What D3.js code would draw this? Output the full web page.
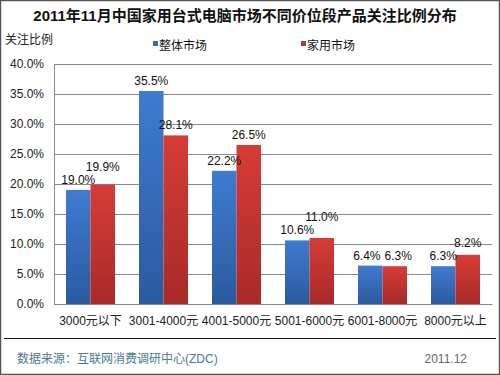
<!DOCTYPE html>
<html lang="zh">
<head>
    <meta charset="UTF-8">
    <title>2011年11月中国家用台式电脑市场不同价位段产品关注比例分布</title>
    <script src="https://d3js.org/d3.v7.min.js"></script>
    <style>
        body { margin: 0; background: #fff; }
        svg text { font-family: "Liberation Sans", Arial, "Noto Sans CJK SC", sans-serif; }
        .tick-label { font-size: 12px; fill: #222; }
        .value-label { font-size: 12px; fill: #111; text-anchor: middle; }
    </style>
</head>
<body>
    <svg width="500" height="375"></svg>
    <script>
        const categories = ["3000元以下", "3001-4000元", "4001-5000元", "5001-6000元", "6001-8000元", "8000元以上"];
        const overall = [19.0, 35.5, 22.2, 10.6, 6.4, 6.3];
        const household = [19.9, 28.1, 26.5, 11.0, 6.3, 8.2];
        const seriesNames = ["整体市场", "家用市场"];
        const yTicks = [0, 5, 10, 15, 20, 25, 30, 35, 40];

        const svg = d3.select("svg");
        const plot = { left: 54, right: 492, top: 64, bottom: 304 };

        // gradients
        const defs = svg.append("defs");
        const grads = [["gBlue", "#3f7bd0", "#2b5a9f"], ["gRed", "#d63c36", "#a82a2a"]];
        grads.forEach(([id, c1, c2]) => {
            const g = defs.append("linearGradient").attr("id", id)
                .attr("x1", 0).attr("y1", 0).attr("x2", 0).attr("y2", 1);
            g.append("stop").attr("offset", "0%").attr("stop-color", c1);
            g.append("stop").attr("offset", "100%").attr("stop-color", c2);
        });
        const fills = ["url(#gBlue)", "url(#gRed)"];
        const legendColors = ["#3a6aa8", "#b03a3a"];

        // outer frame
        svg.append("rect").attr("x", 0.5).attr("y", 0.5).attr("width", 499).attr("height", 374)
            .attr("fill", "none").attr("stroke", "#555").attr("stroke-width", 1.5);

        svg.append("text").attr("x", 245).attr("y", 21).attr("text-anchor", "middle")
            .style("font-size", "15px").style("font-weight", "bold").style("fill", "#111")
            .text("2011年11月中国家用台式电脑市场不同价位段产品关注比例分布");

        svg.append("text").attr("x", 5).attr("y", 44).style("font-size", "12px").style("fill", "#222")
            .text("关注比例");

        const x0 = d3.scaleBand().domain(categories).range([plot.left, plot.right]).paddingInner(0).paddingOuter(0);
        const x1 = d3.scaleBand().domain(seriesNames).range([12, x0.bandwidth() - 12]);
        const y = d3.scaleLinear().domain([0, 40]).range([plot.bottom, plot.top]);

        // grid
        svg.append("g").selectAll("line").data(yTicks).join("line")
            .attr("x1", plot.left).attr("x2", plot.right)
            .attr("y1", d => Math.round(y(d)) + 0.5).attr("y2", d => Math.round(y(d)) + 0.5)
            .attr("stroke", "#8a8a8a").attr("stroke-width", 1);

        // y axis
        const yAxis = svg.append("g").attr("transform", `translate(${plot.left},0)`)
            .call(d3.axisLeft(y).tickValues(yTicks).tickSize(0).tickPadding(10).tickFormat(d => d.toFixed(1) + "%"));
        yAxis.select(".domain").attr("stroke", "#8a8a8a");
        yAxis.selectAll("text").attr("class", "tick-label").attr("font-family", null).attr("font-size", null);

        // bars
        const data = categories.map((c, i) => ({ c, vals: [overall[i], household[i]] }));
        const groups = svg.append("g").selectAll("g").data(data).join("g")
            .attr("transform", d => `translate(${x0(d.c)},0)`);
        groups.selectAll("rect").data(d => d.vals.map((v, k) => ({ v, k }))).join("rect")
            .attr("x", d => x1(seriesNames[d.k]))
            .attr("y", d => y(d.v))
            .attr("width", x1.bandwidth())
            .attr("height", d => y(0) - y(d.v))
            .attr("fill", d => fills[d.k]);

        // value labels, nudged apart when the pair would collide
        groups.each(function (d) {
            const g = d3.select(this);
            const labels = d.vals.map((v, k) => {
                const t = g.append("text").attr("class", "value-label").text(v.toFixed(1) + "%");
                return { t, v, cx: x1(seriesNames[k]) + x1.bandwidth() / 2, by: y(v) - 6, w: t.node().getComputedTextLength() };
            });
            const [a, b] = labels;
            const overlapX = (a.w + b.w) / 2 - (b.cx - a.cx);
            const dy = Math.abs(a.by - b.by);
            if (overlapX > 0 && dy < 14) {
                if (Math.abs(y(a.v) - y(b.v)) < 2) {
                    a.cx -= overlapX / 2 + 2;
                    b.cx += overlapX / 2 + 2;
                } else {
                    const hi = a.by < b.by ? a : b, lo = hi === a ? b : a;
                    hi.by = lo.by - 13;
                }
            }
            labels.forEach(l => l.t.attr("x", l.cx).attr("y", l.by));
        });

        // x axis
        const xAxis = svg.append("g").attr("transform", `translate(0,${plot.bottom})`)
            .call(d3.axisBottom(x0).tickSize(0).tickPadding(12));
        xAxis.select(".domain").attr("stroke", "#8a8a8a");
        xAxis.selectAll("text").attr("class", "tick-label").attr("font-family", null).attr("font-size", null);

        // legend
        const legendX = [153, 301];
        seriesNames.forEach((n, i) => {
            svg.append("rect").attr("x", legendX[i]).attr("y", 41).attr("width", 5).attr("height", 5)
                .attr("fill", legendColors[i]);
            svg.append("text").attr("x", legendX[i] + 6).attr("y", 50)
                .style("font-size", "12px").style("fill", "#111").text(n);
        });

        // footer
        svg.append("line").attr("x1", 4).attr("x2", 496).attr("y1", 338.5).attr("y2", 338.5)
            .attr("stroke", "#111").attr("stroke-width", 1);
        svg.append("text").attr("x", 17).attr("y", 363).style("font-size", "12px").style("fill", "#4a7c8a")
            .text("数据来源：互联网消费调研中心(ZDC)");
        svg.append("text").attr("x", 467).attr("y", 363).attr("text-anchor", "end")
            .style("font-size", "12px").style("fill", "#666").text("2011.12");
    </script>
</body>
</html>
